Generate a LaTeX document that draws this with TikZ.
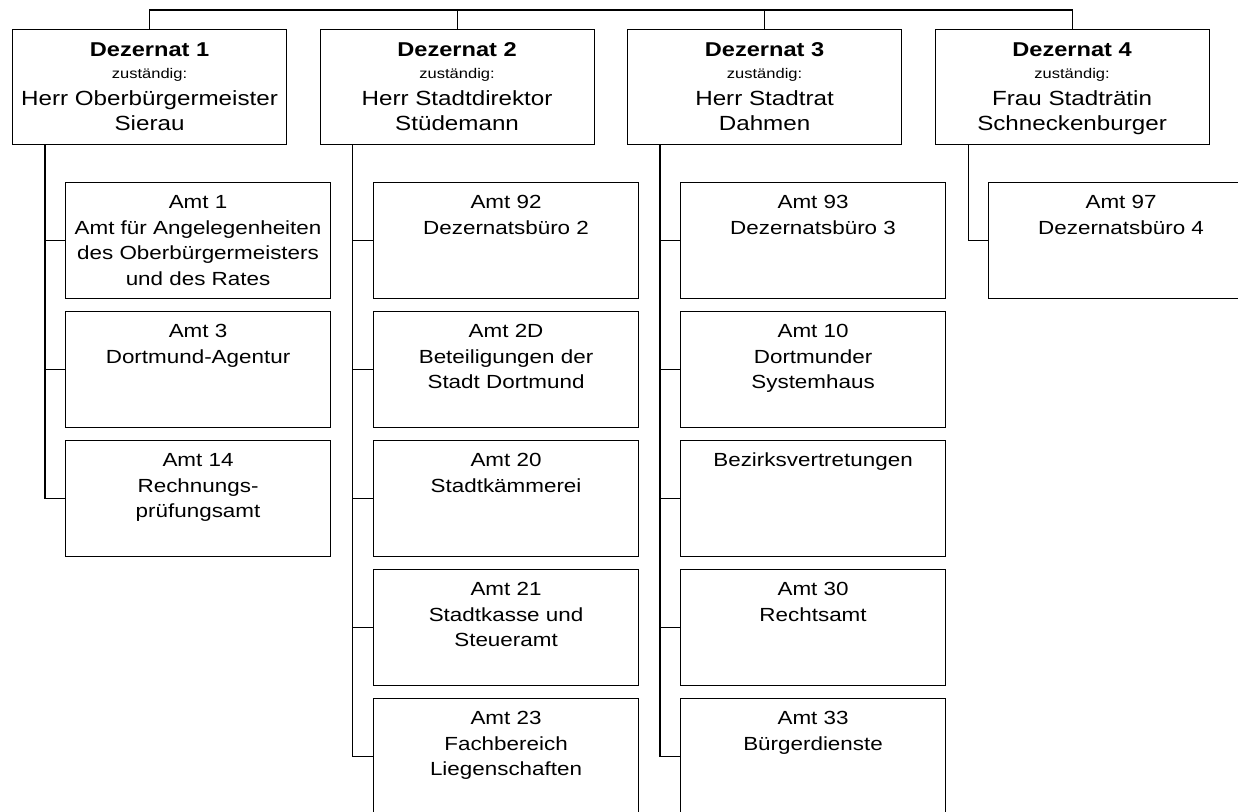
\documentclass[tikz,border=0pt]{standalone}
\usepackage{fontspec}
\setmainfont{Liberation Sans}[FakeStretch=1.18]
\begin{document}
\begin{tikzpicture}[x=1pt,y=-1pt,line width=1.1pt,
  dezbox/.style={draw,rectangle,inner sep=0pt,anchor=north west,fill=white},
  amtbox/.style={draw,rectangle,inner sep=0pt,anchor=north west,fill=white},
  conn/.style={draw,line width=1.1pt}]
\useasboundingbox (0,0) rectangle (1238,811);
\clip (0,0) rectangle (1238,811);
\newcommand{\DezText}[4]{\parbox[c][115pt][t]{274pt}{\centering
  \fontsize{20}{27}\selectfont\rule{0pt}{27pt}\textbf{#1}\par
  \fontsize{14}{22}\selectfont #2\par
  \fontsize{20.5}{27}\selectfont #3\par
  \fontsize{20.5}{25}\selectfont #4\par}}
\newcommand{\AmtText}[1]{\parbox[c][115.5pt][t]{265pt}{\centering
  \fontsize{19}{25.5}\selectfont\rule{0pt}{26pt}#1\par}}
% Dezernat boxes
\node[dezbox] (d1) at (12,29) {\DezText{Dezernat 1}{zuständig:}{Herr Oberbürgermeister}{Sierau}};
\node[dezbox] (d2) at (319.5,29) {\DezText{Dezernat 2}{zuständig:}{Herr Stadtdirektor}{Stüdemann}};
\node[dezbox] (d3) at (627,29) {\DezText{Dezernat 3}{zuständig:}{Herr Stadtrat}{Dahmen}};
\node[dezbox] (d4) at (934.5,29) {\DezText{Dezernat 4}{zuständig:}{Frau Stadträtin}{Schneckenburger}};
% Column 1
\node[amtbox] (a11) at (65,182) {\AmtText{Amt 1\\Amt für Angelegenheiten\\des Oberbürgermeisters\\und des Rates}};
\node[amtbox] (a12) at (65,311) {\AmtText{Amt 3\\Dortmund-Agentur}};
\node[amtbox] (a13) at (65,440) {\AmtText{Amt 14\\Rechnungs-\\prüfungsamt}};
% Column 2
\node[amtbox] (a21) at (373,182) {\AmtText{Amt 92\\Dezernatsbüro 2}};
\node[amtbox] (a22) at (373,311) {\AmtText{Amt 2D\\Beteiligungen der\\Stadt Dortmund}};
\node[amtbox] (a23) at (373,440) {\AmtText{Amt 20\\Stadtkämmerei}};
\node[amtbox] (a24) at (373,569) {\AmtText{Amt 21\\Stadtkasse und\\Steueramt}};
\node[amtbox] (a25) at (373,698) {\AmtText{Amt 23\\Fachbereich\\Liegenschaften}};
% Column 3
\node[amtbox] (a31) at (680,182) {\AmtText{Amt 93\\Dezernatsbüro 3}};
\node[amtbox] (a32) at (680,311) {\AmtText{Amt 10\\Dortmunder\\Systemhaus}};
\node[amtbox] (a33) at (680,440) {\AmtText{Bezirksvertretungen}};
\node[amtbox] (a34) at (680,569) {\AmtText{Amt 30\\Rechtsamt}};
\node[amtbox] (a35) at (680,698) {\AmtText{Amt 33\\Bürgerdienste}};
% Column 4
\node[amtbox] (a41) at (988,182) {\AmtText{Amt 97\\Dezernatsbüro 4}};
% top bar
\coordinate (top) at (0,10);
\draw[conn] (d1.north) -- (d1.north |- top) -- (d4.north |- top) -- (d4.north);
\draw[conn] (d2.north) -- (d2.north |- top);
\draw[conn] (d3.north) -- (d3.north |- top);
% spines
\coordinate (s1) at ([xshift=33pt]d1.south west);
\coordinate (s2) at ([xshift=33pt]d2.south west);
\coordinate (s3) at ([xshift=33pt]d3.south west);
\coordinate (s4) at ([xshift=34pt]d4.south west);
\foreach \a in {a11,a12,a13} {\draw[conn] (s1) |- (\a.west);}
\foreach \a in {a21,a22,a23,a24,a25} {\draw[conn] (s2) |- (\a.west);}
\foreach \a in {a31,a32,a33,a34,a35} {\draw[conn] (s3) |- (\a.west);}
\draw[conn] (s4) |- (a41.west);
\end{tikzpicture}
\end{document}
